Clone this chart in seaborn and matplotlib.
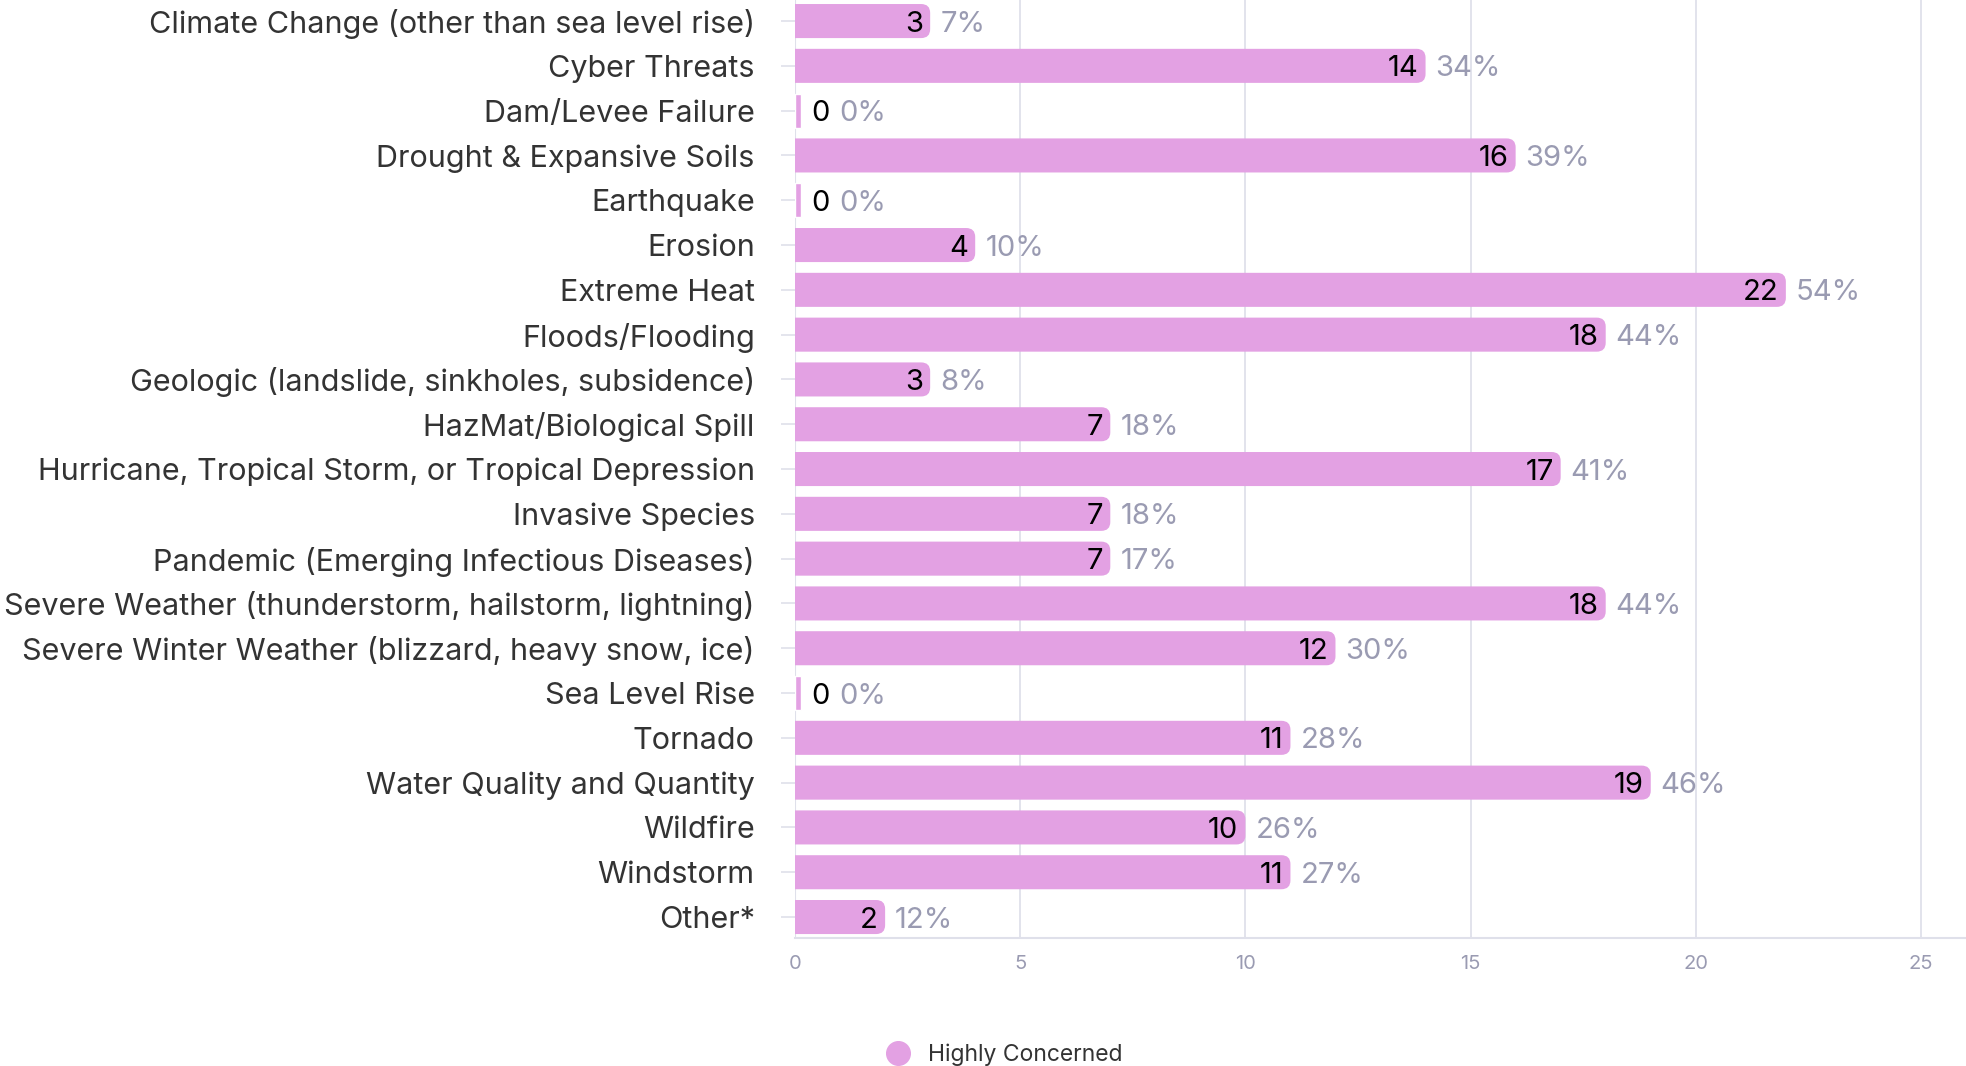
import matplotlib
matplotlib.use("Agg")
import matplotlib.pyplot as plt
import seaborn as sns
import pandas as pd
import numpy as np
from matplotlib.lines import Line2D
from matplotlib.patches import FancyBboxPatch

categories = [
    "Climate Change (other than sea level rise)",
    "Cyber Threats",
    "Dam/Levee Failure",
    "Drought & Expansive Soils",
    "Earthquake",
    "Erosion",
    "Extreme Heat",
    "Floods/Flooding",
    "Geologic (landslide, sinkholes, subsidence)",
    "HazMat/Biological Spill",
    "Hurricane, Tropical Storm, or Tropical Depression",
    "Invasive Species",
    "Pandemic (Emerging Infectious Diseases)",
    "Severe Weather (thunderstorm, hailstorm, lightning)",
    "Severe Winter Weather (blizzard, heavy snow, ice)",
    "Sea Level Rise",
    "Tornado",
    "Water Quality and Quantity",
    "Wildfire",
    "Windstorm",
    "Other*",
]
counts = [3, 14, 0, 16, 0, 4, 22, 18, 3, 7, 17, 7, 7, 18, 12, 0, 11, 19, 10, 11, 2]
percents = [7, 34, 0, 39, 0, 10, 54, 44, 8, 18, 41, 18, 17, 44, 30, 0, 28, 46, 26, 27, 12]
series_name = "Highly Concerned"
x_ticks = [0, 5, 10, 15, 20, 25]

BAR = "#e3a1e3"
GRID = "#dfe0ea"
TICK = "#9a9bb2"
TEXT = "#333333"
FONT = 22
VFONT = 21

sns.set_theme(style="white")
plt.rcParams["font.family"] = ["Inter", "DejaVu Sans"]

df = pd.DataFrame({"category": categories,
                   "display": np.maximum(np.array(counts, float), 0.13),
                   "count": counts, "pct": percents})

fig = plt.figure(figsize=(19.66, 10.66), dpi=100)
ax = fig.add_axes([0.4044, 0.12, 0.5956, 0.88])

sns.barplot(data=df, y="category", x="display", color=BAR, saturation=1,
            width=0.76, orient="h", ax=ax, zorder=3)

# round the right end of each bar
r = 0.2
for p in list(ax.patches):
    x, y = p.get_x(), p.get_y()
    w, h = p.get_width(), p.get_height()
    if w > 0.5:
        fb = FancyBboxPatch((x - r, y), w + r, h,
                            boxstyle=f"round,pad=0,rounding_size={r}",
                            mutation_aspect=1.0, facecolor=BAR, edgecolor="none",
                            zorder=3)
        ax.add_patch(fb)
        p.set_visible(False)

ax.set_xlim(0, 26)
ax.set_ylim(len(categories) - 0.53, -0.47)
ax.set_xticks(x_ticks)
ax.set_xticklabels([str(t) for t in x_ticks])
ax.set_xlabel("")
ax.set_ylabel("")
ax.grid(axis="x", color=GRID, linewidth=1.3, zorder=0)
for s in ["top", "right", "left"]:
    ax.spines[s].set_visible(False)
ax.spines["bottom"].set_color(GRID)
ax.spines["bottom"].set_linewidth(1.5)
ax.axvline(0, color=GRID, linewidth=1.5, zorder=1)

ax.tick_params(axis="x", colors=TICK, labelsize=14.5, length=8, width=1.3, color=GRID, pad=4)
ax.tick_params(axis="y", labelsize=FONT, labelcolor=TEXT, length=10, width=1.2, color=GRID, pad=19,
               left=True)

px = 26 / (0.5956 * 1966)
for i, (c, p) in enumerate(zip(counts, percents)):
    if c > 0:
        ax.text(c - 7 * px, i, str(c), ha="right", va="center_baseline", fontsize=VFONT,
                color="black", zorder=4)
        ax.text(c + 10 * px, i, f"{p}%", ha="left", va="center_baseline", fontsize=VFONT,
                color=TICK, zorder=4)
    else:
        ax.text(0.13 + 10 * px, i, str(c), ha="left", va="center_baseline", fontsize=VFONT,
                color="black", zorder=4)
        ax.text(0.13 + 38 * px, i, f"{p}%", ha="left", va="center_baseline", fontsize=VFONT,
                color=TICK, zorder=4)

handle = Line2D([], [], marker="o", linestyle="", markersize=17, color=BAR)
fig.legend([handle], [series_name], loc="lower center", bbox_to_anchor=(0.508, -0.019),
           frameon=False, fontsize=16.5, labelcolor=TEXT, handletextpad=0.3)

fig.savefig("out.png", dpi=100)
